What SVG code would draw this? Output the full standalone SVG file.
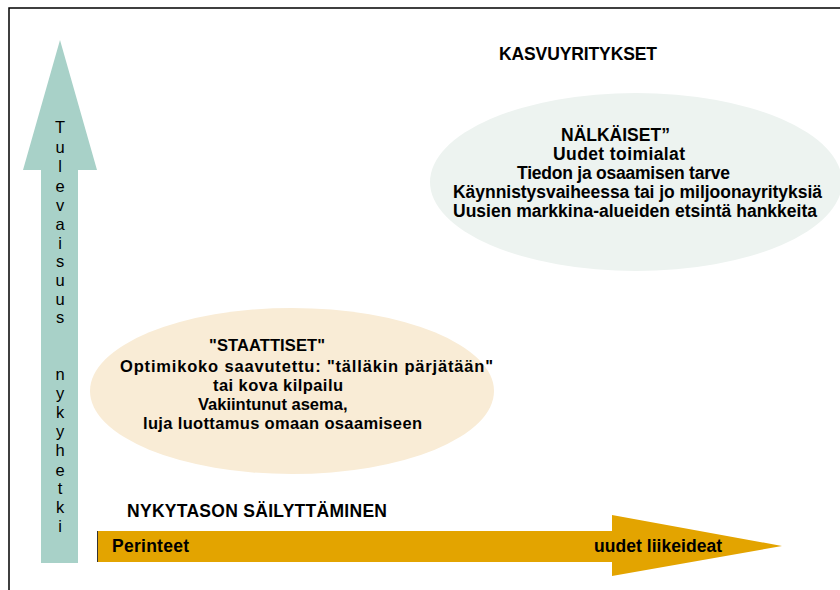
<svg xmlns="http://www.w3.org/2000/svg" width="840" height="590" viewBox="0 0 840 590">
<style>
.t{font-family:"Liberation Sans",Arial,sans-serif;font-weight:bold;font-size:17.5px;fill:#000}
.s{font-size:16.5px}
.v{font-family:"Liberation Sans",Arial,sans-serif;font-size:16.5px;fill:#000;text-anchor:middle}
</style>
<rect width="840" height="590" fill="#fff"/>
<path d="M9,590 V8 H840" fill="none" stroke="#000" stroke-width="1.5"/>
<g id="axis-vertical">
<polygon points="41,563 41,170 23,170 60,40 97,170 78,170 78,563" fill="#a8d1c8"/>
<text class="v" x="60"><tspan x="60" y="133">T</tspan><tspan x="60" y="153">u</tspan><tspan x="60" y="172">l</tspan><tspan x="60" y="192">e</tspan><tspan x="60" y="211">v</tspan><tspan x="60" y="230">a</tspan><tspan x="60" y="249">i</tspan><tspan x="60" y="267">s</tspan><tspan x="60" y="286">u</tspan><tspan x="60" y="305">u</tspan><tspan x="60" y="323">s</tspan><tspan x="60" y="380">n</tspan><tspan x="60" y="399">y</tspan><tspan x="60" y="418">k</tspan><tspan x="60" y="437">y</tspan><tspan x="60" y="456">h</tspan><tspan x="60" y="476">e</tspan><tspan x="60" y="494">t</tspan><tspan x="60" y="513">k</tspan><tspan x="60" y="532">i</tspan></text>
</g>
<g id="axis-horizontal">
<polygon points="97,531 612,531 612,515 782,546 612,576 612,562 97,562" fill="#e3a400"/>
<line x1="97.5" y1="531" x2="97.5" y2="562" stroke="#333" stroke-width="1"/>
<text class="t" x="112" y="552" textLength="77" lengthAdjust="spacing">Perinteet</text>
<text class="t" x="594" y="552" textLength="128" lengthAdjust="spacing">uudet liikeideat</text>
</g>
<g id="label-kasvuyritykset">
<text class="t" x="499" y="60" textLength="158" lengthAdjust="spacing">KASVUYRITYKSET</text>
</g>
<g id="label-nykytason">
<text class="t" x="127" y="517" textLength="260" lengthAdjust="spacing">NYKYTASON SÄILYTTÄMINEN</text>
</g>
<g id="node-nalkaiset">
<ellipse cx="636" cy="182" rx="206" ry="89" fill="#edf3f0"/>
<text class="t" x="561" y="141">NÄLKÄISET”</text>
<text class="t" x="553" y="160" textLength="132" lengthAdjust="spacing">Uudet toimialat</text>
<text class="t" x="517" y="179" textLength="213" lengthAdjust="spacing">Tiedon ja osaamisen tarve</text>
<text class="t" x="453" y="198" textLength="369" lengthAdjust="spacing">Käynnistysvaiheessa tai jo miljoonayrityksiä</text>
<text class="t" x="453" y="217" textLength="364" lengthAdjust="spacing">Uusien markkina-alueiden etsintä hankkeita</text>
</g>
<g id="node-staattiset">
<ellipse cx="292" cy="391" rx="202" ry="83" fill="#f9ecd6"/>
<text class="t s" x="209" y="351" textLength="116" lengthAdjust="spacing">"STAATTISET"</text>
<text class="t s" x="120" y="372" textLength="373" lengthAdjust="spacing">Optimikoko saavutettu: "tälläkin pärjätään"</text>
<text class="t s" x="213" y="391" textLength="130" lengthAdjust="spacing">tai kova kilpailu</text>
<text class="t s" x="198" y="410">Vakiintunut asema,</text>
<text class="t s" x="143" y="429" textLength="279" lengthAdjust="spacing">luja luottamus omaan osaamiseen</text>
</g>
</svg>
